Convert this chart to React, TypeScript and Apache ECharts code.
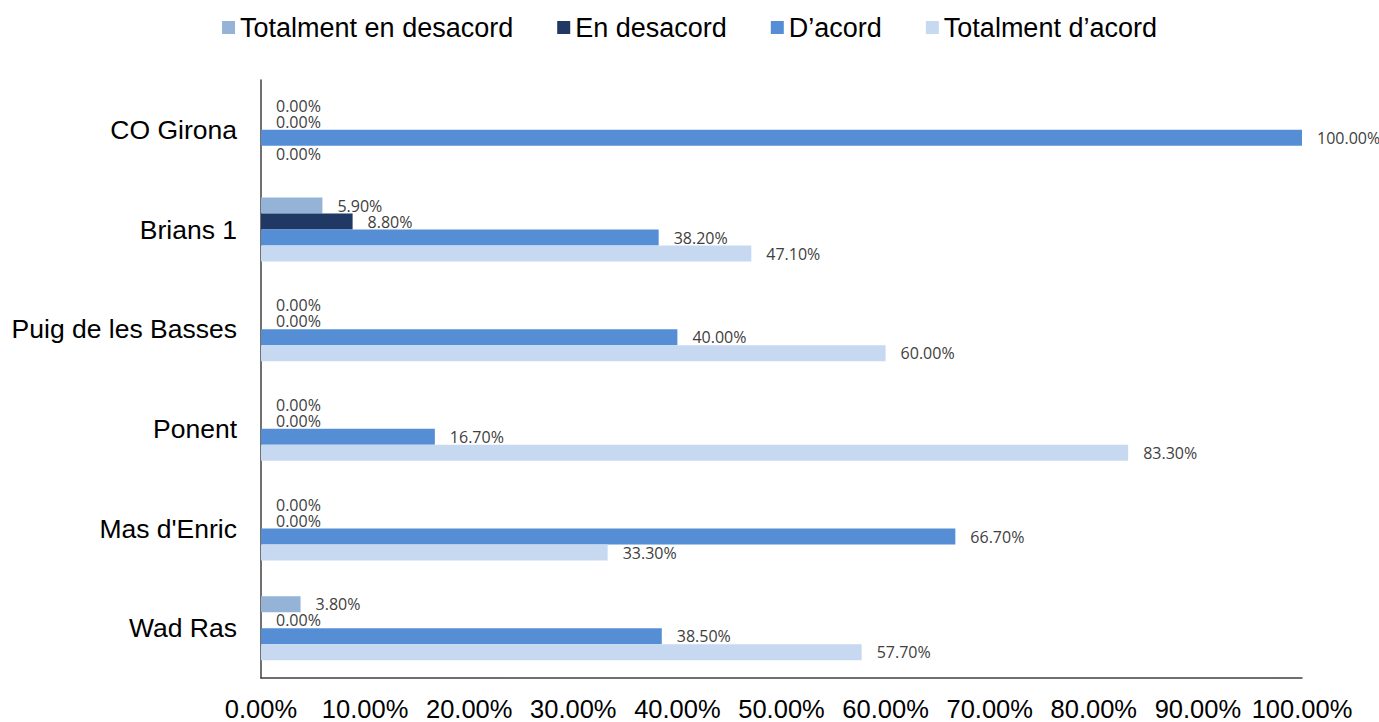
import React, { useEffect, useRef } from "react";
import * as echarts from "echarts";

const categories = ["CO Girona", "Brians 1", "Puig de les Basses", "Ponent", "Mas d'Enric", "Wad Ras"];
const seriesNames = ["Totalment en desacord", "En desacord", "D\u2019acord", "Totalment d\u2019acord"];
const totalmentDesacord = [0, 5.9, 0, 0, 0, 3.8];
const enDesacord = [0, 8.8, 0, 0, 0, 0];
const dAcord = [100, 38.2, 40, 16.7, 66.7, 38.5];
const totalmentAcord = [0, 47.1, 60, 83.3, 33.3, 57.7];
const colors = ["#95B3D7", "#1F3864", "#558ED5", "#C6D9F1"];

export default function App() {
  const ref = useRef<HTMLDivElement>(null);
  useEffect(() => {
    if (!ref.current) return;
    const chart = echarts.init(ref.current, null, { renderer: "svg" });
    const values = [totalmentDesacord, enDesacord, dAcord, totalmentAcord];
    chart.setOption({
      animation: false,
      legend: {
        top: 9,
        left: "center",
        icon: "rect",
        itemWidth: 13,
        itemHeight: 13,
        itemGap: 44,
        textStyle: { fontFamily: "Liberation Sans", fontSize: 27, color: "#000" },
        data: seriesNames,
      },
      grid: { left: 261, right: 77, top: 80, bottom: 33, containLabel: false },
      xAxis: {
        type: "value",
        min: 0,
        max: 100,
        interval: 10,
        axisLine: { show: true, lineStyle: { color: "#404040", width: 1.5 } },
        axisTick: { show: false },
        splitLine: { show: false },
        axisLabel: {
          fontFamily: "Liberation Sans",
          fontSize: 25.5,
          color: "#000",
          margin: 18,
          formatter: (v: number) => v.toFixed(2) + "%",
        },
      },
      yAxis: {
        type: "category",
        inverse: true,
        data: categories,
        axisLine: { show: true, lineStyle: { color: "#404040", width: 1.5 } },
        axisTick: { show: false },
        axisLabel: { fontFamily: "Liberation Sans", fontSize: 26.5, color: "#000", margin: 24 },
      },
      series: seriesNames.map((name, i) => ({
        name,
        type: "bar",
        data: values[i],
        barWidth: 16,
        barGap: "0%",
        barCategoryGap: "36%",
        itemStyle: { color: colors[i] },
        label: {
          show: true,
          position: "right",
          distance: 15,
          fontFamily: "Open Sans",
          fontSize: 16,
          color: "#404040",
          formatter: (p: any) => Number(p.value).toFixed(2) + "%",
        },
      })),
    });
    return () => chart.dispose();
  }, []);
  return (
    <div
      ref={ref}
      style={{ position: "fixed", left: 0, top: 0, width: 1379, height: 722, background: "#fff" }}
    />
  );
}
